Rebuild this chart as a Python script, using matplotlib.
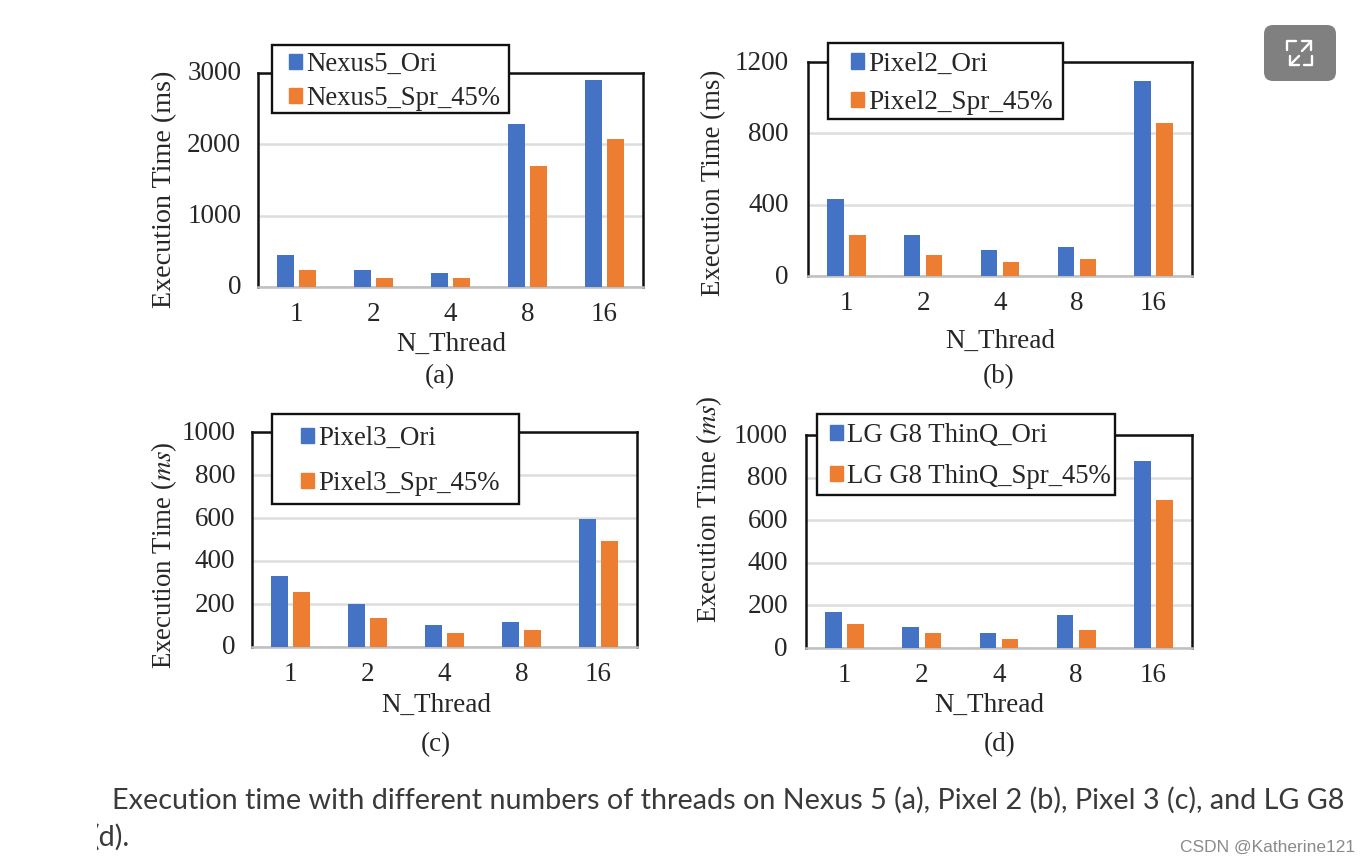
import matplotlib
matplotlib.use("Agg")
import matplotlib.pyplot as plt
from matplotlib.patches import FancyBboxPatch, Patch, Rectangle
from matplotlib.lines import Line2D
from matplotlib.transforms import Bbox, ScaledTranslation
import numpy as np

W, H = 1370, 863
plt.rcParams['font.family'] = ['Liberation Serif', 'DejaVu Serif']
plt.rcParams['mathtext.fontset'] = 'stix'

threads = ['1', '2', '4', '8', '16']

nexus5_ori = [450, 240, 200, 2280, 2900]
nexus5_spr = [240, 120, 120, 1700, 2070]
pixel2_ori = [430, 230, 145, 165, 1095]
pixel2_spr = [230, 115, 80, 95, 860]
pixel3_ori = [328, 200, 103, 118, 595]
pixel3_spr = [255, 133, 65, 78, 495]
lgg8_ori = [170, 100, 72, 155, 880]
lgg8_spr = [113, 72, 43, 85, 697]

BLUE = '#4472C4'
ORANGE = '#ED7D31'
TEXT = '#262626'

fig = plt.figure(figsize=(W / 100, H / 100), dpi=100, facecolor='white')


def fx(x):
    return x / W


def fy(y):
    return 1 - y / H


panels = [
    dict(box=(258, 73, 643, 287), ymax=3000, step=1000, ori=nexus5_ori, spr=nexus5_spr,
         names=('Nexus5_Ori', 'Nexus5_Spr_45%'), ylabel='Execution Time (ms)', ylab=(177, 189), ylfs=20.2,
         xlab=(451, 344), tag='(a)', tagpos=(440, 377), ypad=12,
         frame=(272, 45, 509, 113), hx=289, rows=(62, 96), lfs=19.3),
    dict(box=(808, 62, 1192, 276), ymax=1200, step=400, ori=pixel2_ori, spr=pixel2_spr,
         names=('Pixel2_Ori', 'Pixel2_Spr_45%'), ylabel='Execution Time (ms)', ylab=(726, 183), ylfs=19.4,
         xlab=(1000, 341), tag='(b)', tagpos=(999, 377), ypad=14,
         frame=(828, 43, 1063, 119), hx=851, rows=(62, 100), lfs=19.6),
    dict(box=(252, 432, 637, 647), ymax=1000, step=200, ori=pixel3_ori, spr=pixel3_spr,
         names=('Pixel3_Ori', 'Pixel3_Spr_45%'), ylabel=r'Execution Time ($\mathit{ms}$)', ylab=(179, 555), ylfs=19.4,
         xlab=(436, 705), tag='(c)', tagpos=(436, 745), ypad=12,
         frame=(272, 414, 519, 504), hx=301, rows=(436, 481), lfs=19.4),
    dict(box=(806, 435, 1192, 648), ymax=1000, step=200, ori=lgg8_ori, spr=lgg8_spr,
         names=('LG G8 ThinQ_Ori', 'LG G8 ThinQ_Spr_45%'), ylabel=r'Execution Time ($\mathit{ms}$)', ylab=(724, 509), ylfs=19.4,
         xlab=(989, 705), tag='(d)', tagpos=(1000, 745), ypad=13,
         frame=(817, 414, 1115, 495), hx=830, rows=(433, 474), lfs=19.3),
]

width = 0.215
offset = 0.143
for p in panels:
    l, t, r, b = p['box']
    ax = fig.add_axes([fx(l), fy(b), fx(r - l), (b - t) / H])
    x = np.arange(len(threads))
    ax.bar(x - offset, p['ori'], width, color=BLUE, zorder=3)
    ax.bar(x + offset, p['spr'], width, color=ORANGE, zorder=3)
    ax.set_xlim(-0.5, 4.5)
    ax.set_ylim(0, p['ymax'])
    ax.set_xticks(x, threads)
    ax.set_yticks(np.arange(0, p['ymax'] + 1, p['step']))
    ax.tick_params(length=0, labelsize=19.5, labelcolor=TEXT)
    ax.tick_params(axis='x', pad=11)
    ax.tick_params(axis='y', pad=p['ypad'])
    shift = ScaledTranslation(0, 2 / 100, fig.dpi_scale_trans)
    for lab in ax.get_yticklabels():
        lab.set_transform(lab.get_transform() + shift)
    ax.grid(axis='y', color='#DDDDDD', lw=1.8, zorder=0)
    ax.set_axisbelow(True)
    for s in ('left', 'top', 'right'):
        ax.spines[s].set_color('#111111')
        ax.spines[s].set_linewidth(1.8)
    ax.spines['bottom'].set_color('#BFBFBF')
    ax.spines['bottom'].set_linewidth(1.8)
    ax.set_ylabel(p['ylabel'], fontsize=p['ylfs'], color=TEXT)
    ax.yaxis.set_label_coords(fx(p['ylab'][0]), fy(p['ylab'][1]), transform=fig.transFigure)
    ax.set_xlabel('N_Thread', fontsize=19.5, color=TEXT)
    ax.xaxis.set_label_coords(fx(p['xlab'][0]), fy(p['xlab'][1]), transform=fig.transFigure)
    ax.xaxis.label.set_va('center')
    fig.text(fx(p['tagpos'][0]), fy(p['tagpos'][1]), p['tag'], fontsize=19.5, color=TEXT,
             ha='center', va='center')

    # legend: frame drawn separately so text rows and frame sit independently
    fx0, fy0, fx1, fy1 = p['frame']
    ax.add_patch(Rectangle((fx(fx0), fy(fy1)), (fx1 - fx0) / W, (fy1 - fy0) / H,
                           transform=fig.transFigure, fc='white', ec='#111111', lw=1.7,
                           clip_on=False, zorder=9))
    em = p['lfs'] * 100 / 72
    handles = [Patch(color=BLUE, label=p['names'][0]), Patch(color=ORANGE, label=p['names'][1])]
    leg = ax.legend(handles=handles, loc='lower left',
                    bbox_to_anchor=(fx(p['hx']), fy(p['rows'][1] + 15)),
                    bbox_transform=fig.transFigure, borderaxespad=0, borderpad=0, fontsize=p['lfs'],
                    handlelength=13 / em, handleheight=13 / em, handletextpad=4 / em,
                    labelspacing=(p['rows'][1] - p['rows'][0] - 24.7) / em,
                    frameon=False, labelcolor=TEXT)
    leg.set_zorder(10)

# caption
cap = dict(fontsize=20.7, color='#3a3a3a', family='Lato', va='center', ha='left')
fig.text(fx(112), fy(800), 'Execution time with different numbers of threads on Nexus 5 (a), Pixel 2 (b), Pixel 3 (c), and LG G8', **cap)
tail = fig.text(fx(92), fy(837), '(d).', clip_on=True, **cap)
tail.set_clip_box(Bbox([[97, 0], [400, H]]))

# watermark
fig.text(fx(1355), fy(847), 'CSDN @Katherine121', fontsize=12.5, color='#8a8a8a',
         family='Liberation Sans', ha='right', va='center')

# overlay button of the web page
overlay = fig.add_axes([0, 0, 1, 1], zorder=20)
overlay.set_xlim(0, W)
overlay.set_ylim(H, 0)
overlay.axis('off')
overlay.patch.set_alpha(0)
overlay.add_patch(FancyBboxPatch((1270, 31), 60, 44, boxstyle='round,pad=6,rounding_size=9',
                                 fc='#808080', ec='none'))
icon = [
    ([1287.5, 1287.5, 1296], [50, 41, 41]),
    ([1312.5, 1312.5, 1304], [56, 65.5, 65.5]),
    ([1302, 1311, 1311], [41.5, 41.5, 50]),
    ([1311, 1302], [41.5, 51]),
    ([1290, 1290, 1299], [56, 65, 65]),
    ([1290, 1299], [65, 56]),
]
for xs, ys in icon:
    overlay.add_line(Line2D(xs, ys, color='white', lw=1.7, solid_capstyle='round'))

fig.savefig('out.png', dpi=100, facecolor='white')
